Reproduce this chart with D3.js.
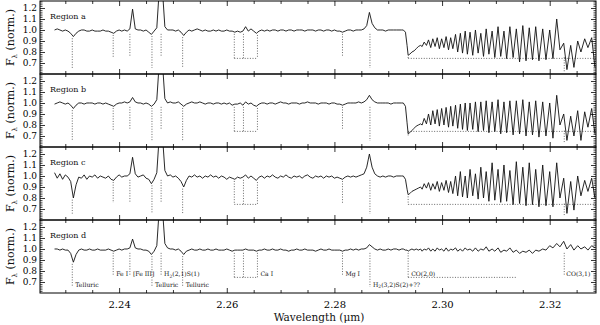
<!DOCTYPE html>
<html>
<head>
<meta charset="utf-8">
<script src="https://cdn.jsdelivr.net/npm/d3@7"></script>
<style>
  body { margin: 0; background: #fff; }
  svg { display: block; font-family: "DejaVu Serif", "Liberation Serif", serif; }
</style>
</head>
<body>
<svg id="chart" width="600" height="325"></svg>
<script>
// ---- data ----
const regionNames = ["Region a", "Region b", "Region c", "Region d"];

// wavelength samples (micron): continuum part, CO bandhead, then CO line minima/maxima
const wave = [
  2.2280,2.2285,2.2290,2.2295,2.2300,2.2305,2.2310,2.2315,2.2320,2.2325,
  2.2330,2.2335,2.2340,2.2345,2.2350,2.2355,2.2360,2.2365,2.2370,2.2375,
  2.2380,2.2385,2.2390,2.2395,2.2400,2.2405,2.2410,2.2415,2.2420,2.2425,
  2.2430,2.2435,2.2440,2.2445,2.2450,2.2455,2.2460,2.2465,2.2470,2.2475,
  2.2480,2.2485,2.2490,2.2495,2.2500,2.2505,2.2510,2.2515,2.2520,2.2525,
  2.2530,2.2535,2.2540,2.2545,2.2550,2.2555,2.2560,2.2565,2.2570,2.2575,
  2.2580,2.2585,2.2590,2.2595,2.2600,2.2605,2.2610,2.2615,2.2620,2.2625,
  2.2630,2.2635,2.2640,2.2645,2.2650,2.2655,2.2660,2.2665,2.2670,2.2675,
  2.2680,2.2685,2.2690,2.2695,2.2700,2.2705,2.2710,2.2715,2.2720,2.2725,
  2.2730,2.2735,2.2740,2.2745,2.2750,2.2755,2.2760,2.2765,2.2770,2.2775,
  2.2780,2.2785,2.2790,2.2795,2.2800,2.2805,2.2810,2.2815,2.2820,2.2825,
  2.2830,2.2835,2.2840,2.2845,2.2850,2.2855,2.2860,2.2865,2.2870,2.2875,
  2.2880,2.2885,2.2890,2.2895,2.2900,2.2905,2.2910,2.2915,2.2920,2.2925,
  2.2928,2.2932,2.2935,2.2937,2.2940,2.2944,2.2948,2.2952,2.2956,2.2960,
  2.2963,2.29668,2.2971,2.29748,2.2979,2.29828,2.2987,2.2991,2.2995,2.29992,
  2.30035,2.30075,2.3012,2.3016,2.3020,2.3025,2.3029,2.3034,2.3038,2.3043,
  2.3047,2.3052,2.3057,2.3062,2.3067,2.3072,2.3077,2.3082,2.3087,2.3093,
  2.3098,2.3104,2.3109,2.3115,2.3120,2.3126,2.3132,2.3138,2.3144,2.3150,
  2.3156,2.3162,2.3168,2.3174,2.3180,2.3187,2.3193,2.3200,2.3206,2.3213,
  2.3219,2.3226,2.3232,2.3239,2.3245,2.3252,2.3258,2.3265,2.3271,2.3278,
  2.3284
];

const fluxA = [
  1.00,1.01,1.00,0.99,1.00,0.99,0.97,0.94,0.97,0.99,
  1.00,1.00,0.99,0.99,1.00,0.99,0.99,0.99,1.00,0.99,
  0.99,0.98,0.97,0.99,1.00,0.99,1.00,0.99,1.01,1.19,
  1.01,1.00,1.00,0.99,1.00,0.98,0.96,0.99,1.02,1.40,
  1.40,1.03,1.00,1.00,1.00,0.99,1.00,0.98,0.95,0.98,
  1.00,0.99,1.00,1.01,1.00,0.99,1.00,0.99,0.99,1.00,
  0.99,1.00,0.99,0.99,1.00,0.99,0.99,0.98,0.99,0.98,
  0.99,1.03,0.99,1.01,0.99,0.97,0.99,1.00,0.99,1.00,
  0.99,1.00,1.00,0.99,1.00,1.00,0.99,1.00,1.00,0.99,
  1.00,1.00,1.00,0.99,1.00,1.00,1.00,0.99,1.00,1.00,
  0.99,1.00,1.00,0.99,1.00,0.99,0.99,0.98,0.99,1.00,
  1.00,0.99,1.00,1.00,1.00,1.01,1.04,1.16,1.06,1.02,
  1.00,1.00,1.00,0.99,1.00,1.00,1.00,1.00,1.00,1.00,
  1.00,0.98,0.86,0.77,0.78,0.80,0.81,0.83,0.85,0.86,
  0.85,0.89,0.86,0.91,0.84,0.92,0.85,0.93,0.83,0.92,
  0.84,0.94,0.82,0.93,0.83,0.96,0.80,0.97,0.79,0.99,
  0.78,0.98,0.77,1.00,0.79,0.97,0.76,1.01,0.78,0.99,
  0.75,1.03,0.76,0.99,0.74,1.03,0.75,1.01,0.71,1.04,
  0.72,1.02,0.73,1.03,0.72,1.01,0.73,1.00,0.74,1.10,
  0.82,0.88,0.64,0.86,0.66,0.90,0.80,0.92,0.84,0.93,
  0.66
];

const fluxB = [
  0.99,1.00,1.01,1.00,0.99,1.00,0.98,0.95,0.98,1.00,
  1.00,0.99,1.00,1.00,1.00,0.99,1.00,1.00,0.99,1.00,
  0.99,0.98,0.97,0.99,1.00,1.00,1.01,1.00,1.01,1.05,
  1.01,1.00,1.00,0.99,1.00,0.99,0.97,0.99,1.03,1.40,
  1.40,1.04,1.00,1.01,1.00,1.00,1.01,0.99,0.97,0.99,
  1.00,1.01,1.00,1.00,1.01,1.00,0.99,1.00,1.00,0.99,
  1.00,1.00,0.99,1.00,0.99,1.00,0.98,0.99,0.99,1.00,
  0.98,1.01,0.99,1.00,0.98,0.97,0.99,1.00,1.00,0.99,
  1.00,1.00,0.99,1.00,1.01,1.00,1.00,0.99,1.00,1.00,
  1.00,0.99,1.00,1.00,1.01,1.00,1.00,1.00,0.99,1.00,
  1.00,1.00,0.99,1.00,1.00,0.99,0.99,0.98,0.99,1.00,
  1.00,1.00,1.00,1.01,1.00,1.01,1.03,1.07,1.03,1.01,
  1.00,1.00,1.00,1.00,1.00,0.99,1.00,1.00,1.00,1.00,
  1.00,0.97,0.82,0.72,0.73,0.75,0.77,0.79,0.80,0.81,
  0.80,0.86,0.81,0.90,0.80,0.93,0.81,0.94,0.79,0.95,
  0.80,0.96,0.78,0.97,0.79,0.98,0.77,0.99,0.76,1.00,
  0.75,1.00,0.76,1.01,0.74,1.01,0.75,1.02,0.73,1.01,
  0.74,1.03,0.72,1.01,0.73,1.02,0.71,1.02,0.72,1.03,
  0.70,1.01,0.71,1.02,0.69,1.01,0.70,1.00,0.68,1.07,
  0.80,0.90,0.66,0.88,0.70,0.93,0.66,0.92,0.78,0.95,
  0.72
];

const fluxC = [
  1.03,0.98,1.02,0.97,1.01,0.99,0.95,0.80,0.92,0.99,
  0.98,1.01,0.97,1.00,0.99,1.01,0.98,1.00,0.99,0.98,
  1.00,0.97,0.96,0.99,1.01,0.99,1.00,1.00,1.02,1.17,
  1.02,0.99,1.00,1.01,0.98,0.97,0.93,0.97,1.03,1.40,
  1.40,1.05,1.00,1.01,0.99,1.00,0.98,0.95,0.90,0.96,
  1.00,0.99,1.01,0.99,1.00,0.98,1.00,0.99,1.01,0.99,
  1.00,0.98,1.00,0.99,0.97,0.99,0.98,0.97,0.99,0.98,
  0.99,1.01,0.98,1.00,0.98,0.96,0.99,1.00,0.98,1.00,
  0.99,1.01,0.99,0.98,1.00,0.99,1.01,0.99,0.98,1.00,
  0.99,1.00,0.98,1.00,1.01,0.99,0.98,1.00,0.99,1.00,
  0.98,1.00,0.99,1.00,0.98,0.99,0.98,0.97,0.99,1.00,
  0.99,1.00,0.99,1.00,1.01,1.02,1.08,1.20,1.08,1.02,
  1.00,0.99,1.00,0.99,1.00,1.00,0.99,1.00,1.00,1.00,
  1.00,0.97,0.88,0.83,0.84,0.86,0.87,0.88,0.89,0.90,
  0.88,0.93,0.89,0.94,0.87,0.93,0.88,0.95,0.86,0.94,
  0.87,0.96,0.85,0.95,0.84,1.00,0.82,1.04,0.81,1.00,
  0.80,1.06,0.82,1.02,0.79,1.08,0.80,1.04,0.77,1.12,
  0.78,1.06,0.76,1.10,0.77,1.05,0.74,1.13,0.75,1.08,
  0.73,1.12,0.74,1.06,0.72,1.10,0.73,1.04,0.72,1.12,
  0.80,0.98,0.66,0.95,0.69,1.00,0.82,0.96,0.86,0.98,
  0.80
];

const fluxD = [
  1.00,1.00,0.99,1.00,0.99,0.99,0.96,0.88,0.95,0.99,
  1.00,0.99,0.99,1.00,0.99,0.99,1.00,0.99,0.99,0.99,
  1.00,0.99,0.98,0.99,1.00,0.99,1.00,1.00,1.01,1.09,
  1.01,1.00,1.00,0.99,0.99,0.98,0.95,0.98,1.03,1.40,
  1.40,1.05,1.01,1.00,1.00,0.99,1.00,0.98,0.95,0.98,
  0.99,1.00,0.99,0.99,1.00,0.99,0.99,1.00,0.99,0.99,
  1.00,0.99,0.99,0.99,1.00,0.99,0.98,0.99,0.99,0.99,
  0.99,1.00,0.99,0.99,0.99,0.98,0.99,0.99,1.00,0.99,
  0.99,1.00,0.99,0.99,1.00,0.99,0.99,0.98,0.99,0.99,
  1.00,0.99,0.99,1.00,0.99,0.99,0.99,0.98,0.99,1.00,
  0.99,0.99,1.00,0.99,0.99,0.99,0.99,0.98,0.99,0.99,
  1.00,0.99,1.00,0.99,1.00,1.00,1.01,1.04,1.02,1.00,
  0.99,1.00,0.99,0.99,1.00,0.99,1.00,1.00,0.99,1.00,
  1.00,0.99,0.99,0.98,0.99,1.00,0.99,1.00,0.99,1.00,
  0.98,1.00,0.99,1.01,0.98,1.00,0.98,1.01,0.99,1.00,
  0.98,1.01,0.98,1.00,0.99,1.01,0.98,1.00,0.98,1.01,
  0.99,1.00,0.98,1.01,0.98,1.00,0.99,1.02,0.98,1.00,
  0.98,1.01,0.97,0.99,0.98,1.01,0.97,0.99,0.96,0.98,
  0.97,0.99,0.96,0.99,0.98,1.00,0.99,1.03,1.01,1.05,
  1.02,1.07,1.00,1.04,0.99,1.03,1.00,1.02,0.99,1.03,
  1.01
];

// identified lines (micron) and their names
const lineWaves = [2.2313, 2.2389, 2.2420, 2.2461, 2.2478, 2.2518, 2.2614, 2.2631, 2.2657, 2.2815, 2.2866, 2.2937, 2.3227];
const lineNames = ["Telluric", "Fe I", "[Fe III]", "Telluric", "H2(2,1)S(1)", "Telluric", "", "", "Ca I", "Mg I", "H2(3,2)S(2)+??", "CO(2,0)", "CO(3,1)"];

const xMajor = [2.24, 2.26, 2.28, 2.30, 2.32];
const xMinor = [2.23, 2.235, 2.245, 2.25, 2.255, 2.265, 2.27, 2.275, 2.285, 2.29, 2.295, 2.305, 2.31, 2.315, 2.325];
const yMajor = [0.7, 0.8, 0.9, 1.0, 1.1, 1.2];
const yMinor = [0.62, 0.64, 0.66, 0.68, 0.72, 0.74, 0.76, 0.78, 0.82, 0.84, 0.86, 0.88, 0.92, 0.94, 0.96, 0.98,
                1.02, 1.04, 1.06, 1.08, 1.12, 1.14, 1.16, 1.18, 1.22, 1.24, 1.26];

// ---- drawing ----
const svg = d3.select("#chart");
const left = 40, right = 596;
const panelTop = [1, 74, 147, 220], panelH = 73;
const fluxes = [fluxA, fluxB, fluxC, fluxD];

const x = d3.scaleLinear().domain([2.2253, 2.3286]).range([left, right]);

// which labels sit on the lower row, and where the dotted lines stop
const lowerRow = new Set(["Telluric", "H2(3,2)S(2)+??"]);
const caBox = [6, 7, 8];

function styleAxis(g) {
  g.select(".domain").remove();
  g.selectAll(".tick line").attr("stroke", "#000").attr("stroke-width", 0.8);
  g.attr("font-family", null);
}

function addName(txt, name) {
  // "H2..." gets a subscripted 2
  if (name.startsWith("H2")) {
    txt.append("tspan").text("H");
    txt.append("tspan").text("2").attr("font-size", 4.5).attr("dy", 1.5);
    txt.append("tspan").text(name.slice(2)).attr("dy", -1.5);
  } else {
    txt.text(name);
  }
}

regionNames.forEach((region, k) => {
  const top = panelTop[k], bot = top + panelH;
  const y = d3.scaleLinear().domain([0.6, 1.2636]).range([bot, top]);
  const flux = fluxes[k];
  const g = svg.append("g");

  svg.append("clipPath").attr("id", "clip" + k)
    .append("rect").attr("x", left).attr("y", top).attr("width", right - left).attr("height", panelH);
  const plot = g.append("g").attr("clip-path", "url(#clip" + k + ")");

  // dotted line markers
  function localMin(w) {
    let m = 1;
    wave.forEach((v, i) => { if (Math.abs(v - w) < 0.0006) m = Math.min(m, flux[i]); });
    return m;
  }
  const dotted = sel => sel.attr("stroke", "#444").attr("stroke-width", 0.8)
    .attr("stroke-dasharray", "1,1.6").attr("fill", "none");

  lineWaves.forEach((w, m) => {
    const name = lineNames[m];
    const topF = Math.min(0.965, localMin(w) - 0.015);
    let botF;
    if (caBox.includes(m) || name.startsWith("CO(2")) botF = 0.742;
    else if (lowerRow.has(name)) botF = 0.655;
    else botF = 0.755;
    plot.append("line").call(dotted)
      .attr("x1", x(w)).attr("x2", x(w)).attr("y1", y(topF)).attr("y2", y(botF));
  });
  // Ca I box bottom
  plot.append("line").call(dotted)
    .attr("x1", x(lineWaves[6])).attr("x2", x(lineWaves[8]))
    .attr("y1", y(0.742)).attr("y2", y(0.742));
  // CO(2,0) band extent
  plot.append("line").call(dotted)
    .attr("x1", x(lineWaves[11])).attr("x2", k === 3 ? x(2.3139) : right)
    .attr("y1", y(0.742)).attr("y2", y(0.742));

  // labels only in the last panel
  if (k === 3) {
    lineWaves.forEach((w, m) => {
      const name = lineNames[m];
      if (!name) return;
      const t = g.append("text")
        .attr("x", x(w) + (name === "CO(3,1)" ? 2 : 3))
        .attr("y", y(lowerRow.has(name) ? 0.657 : 0.752))
        .attr("font-size", 6.1).attr("fill", "#111");
      addName(t, name);
    });
  }

  // spectrum
  plot.append("path")
    .datum(wave.map((w, i) => [w, flux[i]]))
    .attr("d", d3.line().x(d => x(d[0])).y(d => y(d[1])))
    .attr("fill", "none").attr("stroke", "#111").attr("stroke-width", 0.9)
    .attr("stroke-linejoin", "round");

  // axes: ticks point inwards on all four sides
  g.append("g").attr("transform", `translate(0,${bot})`)
    .call(d3.axisBottom(x).tickValues(xMajor).tickSize(-5).tickPadding(8)
      .tickFormat(k === 3 ? d3.format(".2f") : ""))
    .call(styleAxis).attr("font-size", 10);
  g.append("g").attr("transform", `translate(0,${bot})`)
    .call(d3.axisBottom(x).tickValues(xMinor).tickSize(-3).tickFormat(""))
    .call(styleAxis);
  g.append("g").attr("transform", `translate(0,${top})`)
    .call(d3.axisTop(x).tickValues(xMajor).tickSize(-5).tickFormat(""))
    .call(styleAxis);
  g.append("g").attr("transform", `translate(0,${top})`)
    .call(d3.axisTop(x).tickValues(xMinor).tickSize(-3).tickFormat(""))
    .call(styleAxis);
  g.append("g").attr("transform", `translate(${left},0)`)
    .call(d3.axisLeft(y).tickValues(yMajor).tickSize(-5).tickPadding(3).tickFormat(d3.format(".1f")))
    .call(styleAxis).attr("font-size", 9);
  g.append("g").attr("transform", `translate(${left},0)`)
    .call(d3.axisLeft(y).tickValues(yMinor).tickSize(-2.5).tickFormat(""))
    .call(styleAxis);
  g.append("g").attr("transform", `translate(${right},0)`)
    .call(d3.axisRight(y).tickValues(yMajor).tickSize(-5).tickFormat(""))
    .call(styleAxis);
  g.append("g").attr("transform", `translate(${right},0)`)
    .call(d3.axisRight(y).tickValues(yMinor).tickSize(-2.5).tickFormat(""))
    .call(styleAxis);

  g.append("rect").attr("x", left).attr("y", top).attr("width", right - left).attr("height", panelH)
    .attr("fill", "none").attr("stroke", "#000").attr("stroke-width", 1);

  g.append("text").attr("x", 50).attr("y", top + 18).attr("font-size", 8).attr("fill", "#111").text(region);

  // y title
  const yt = g.append("text")
    .attr("transform", `translate(14,${top + panelH / 2}) rotate(-90)`)
    .attr("text-anchor", "middle").attr("font-size", 11).attr("fill", "#111");
  yt.append("tspan").text("F");
  yt.append("tspan").text("λ").attr("font-size", 7).attr("dy", 2.5);
  yt.append("tspan").text(" (norm.)").attr("dy", -2.5);
});

svg.append("text").attr("x", 319).attr("y", 321).attr("text-anchor", "middle")
  .attr("font-size", 10.5).attr("fill", "#111")
  .text("Wavelength (μm)");
</script>
</body>
</html>
